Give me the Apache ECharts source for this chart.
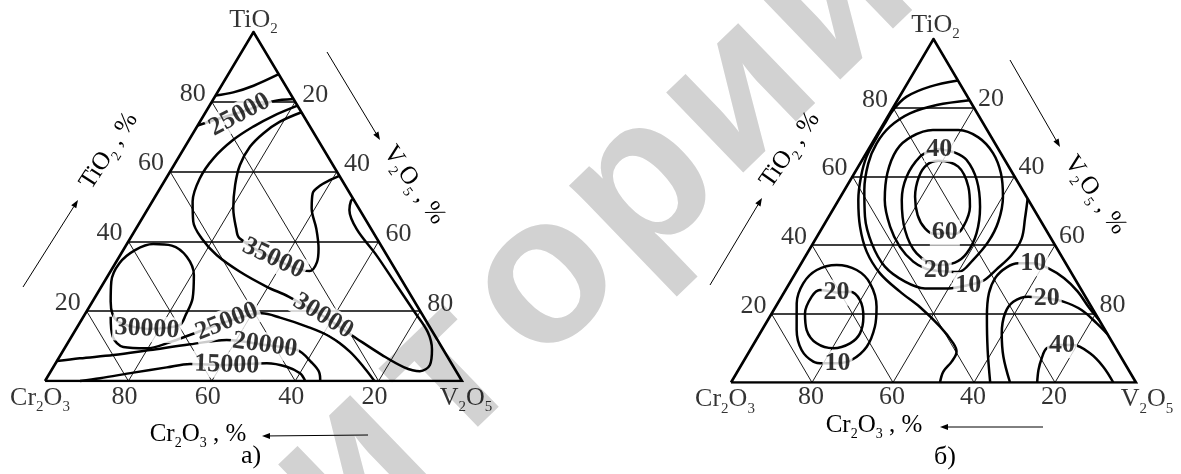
<!DOCTYPE html>
<html><head><meta charset="utf-8">
<script src="https://cdn.jsdelivr.net/npm/echarts@6/dist/echarts.min.js"></script>
<style>html,body{margin:0;padding:0;background:#fff}#c{width:1181px;height:474px}</style>
</head><body><div id="c"></div>
<script>
// ================= DATA =================
// points are compositions [TiO2 %, V2O5 %]  (Cr2O3 = 100 - TiO2 - V2O5)
const ticks = [20, 40, 60, 80];
const tickText = ['20', '40', '60', '80'];

// ---- chart а) ----
const aArc     = [[81.8,0],[82.7,3.8],[84.6,7.7],[87.9,12.1]];
const a25kTop  = [[73.2,0],[75.3,4.3],[77.0,8.3],[78.6,11.5],[80.2,14.7],[80.8,19.2]];
const a30kBig  = [[78.9,21.1],[76.0,16.8],[72.9,13.5],[69.1,10.6],[63.8,8.5],[58.1,8.1],[51.4,9.7],[45.7,12.7],[40.9,17.1],[36.1,23.1],[31.3,31.1],[27.0,39.7],[24.2,46.3],[18.6,57.4],[12.2,68.6],[7.5,77.0],[4.0,84.0],[2.8,88.5],[4.6,90.0],[9.0,88.3],[14.0,84.8],[20.0,78.5],[28.0,70.0],[36.0,61.5],[43.5,53.0],[49.0,48.5],[51.5,47.6],[52.2,47.8]];
const a35k     = [[77.0,23.0],[74.3,19.2],[71.0,16.9],[67.1,15.6],[61.9,15.8],[56.2,17.5],[49.5,20.4],[43.7,24.0],[40.9,26.2],[35.1,37.2],[31.5,47.7],[34.0,48.2],[38.0,46.6],[43.7,43.2],[49.5,39.2],[53.8,37.3],[56.0,38.0],[57.6,39.6],[58.8,41.2]];
const a30kLoop = [[14.9,17.0],[17.2,8.75],[22.7,4.4],[28.5,1.65],[33.7,0.95],[37.5,2.85],[39.25,6.35],[38.8,11.0],[35.6,16.2],[30.4,20.5],[23.7,23.55],[19.1,24.25],[16.0,24.2],[14.9,17.0]];
const a25kLow  = [[18.4,6.55],[12.7,9.9],[9.75,13.9],[9.36,19.7],[11.1,24.4],[13.4,28.5],[17.0,35.1],[19.4,42.3],[18.15,47.3],[15.6,55.0],[12.7,62.0],[8.4,68.9],[3.6,74.9],[0,79]];
const a20k     = [[5.7,0],[6.5,5.1],[7.45,12.7],[8.9,20.75],[10.5,29.55],[11.75,37.7],[10.3,47.6],[8.9,56],[5.3,61.3],[2.5,64.5],[0,66]];
const a15k     = [[0,8.4],[0.8,12.8],[2.4,20.0],[3.9,27.25],[4.9,32.35],[4.6,41.3],[5.1,50.65],[4.1,55.9],[2.2,60.05],[0,62.4]];
const aLabelText = ['25000','35000','30000','30000','25000','20000','15000'];
const aLabelPos  = [[76.3,8.5],[35.1,37.2],[18.6,57.4],[14.9,17.0],[17.0,35.1],[10.3,47.6],[4.6,41.3]];

// ---- chart б) ----
const bRing60 = [[43.6,31.0],[43.2,28.77],[44.88,25.46],[48.76,21.7],[54.1,18.4],[59.92,16.46],[63.32,16.65],[64.58,18.9],[62.83,24.7],[57.0,30.1],[51.2,33.4],[45.37,34.68],[43.2,33.7],[43.6,31.0]];
const bRing40 = [[68,17.4],[66.9,21.85],[64.77,25.8],[58.95,31.2],[51.19,35.9],[43.43,38.9],[37.6,39.4],[34.9,37.85],[34.2,34.1],[37.6,27.04],[44.4,20.76],[53.13,15.6],[59.92,13.4],[65.75,13.8],[67.5,15.75],[68,17.4]];
const bRing20 = [[32.56,34.5],[32.17,40.05],[35.66,41.9],[41.0,43.04],[46.8,42.6],[54.1,40.1],[60.9,36.2],[66.8,31.3],[71.37,25.4],[73.5,19.4],[73.5,13.1],[71.57,8.8],[67.7,7.05],[60.9,8.15],[53.13,11.4],[45.37,16.6],[39.5,21.95],[35.18,27.4],[33.24,31.3],[32.56,34.5]];
const bRing10 = [[82.2,17.8],[80.79,10.4],[78.36,5.0],[74.48,2.0],[69.63,1.15],[63.8,2.0],[56.04,4.9],[48.28,8.94],[40.5,14.5],[33.72,21.14],[29.35,28.3],[27.4,34.2],[27.4,39.96],[28.39,44.4],[29.65,47.47],[32.95,49.1],[37.1,50.75],[41.97,50.8],[47.8,48.7],[53.5,46.5]];
const bOuter  = [[87.9,12.1],[86.12,6.07],[83.21,1.77],[79.5,0.4],[75.45,0.3],[71.37,0.3],[65.75,0.6],[59.92,2.14],[53.13,4.87],[45.37,9.17],[38.1,14.45],[31.78,20.9],[26.45,28.5],[21.9,35.75],[16.25,43.5],[11.4,49.2],[8.98,51.2],[6.07,51.45],[3.16,50.85],[0,51.6]];
const b10Low  = [[0,64],[9.46,58.64],[19.17,53.6],[25.96,50.7],[30.6,50.05],[33.53,51.3],[34.7,53.6],[34.7,57.3],[33.34,61.5],[30.33,67.1],[26.45,72.4],[22.08,77.2],[18.2,81.8]];
const b20Low  = [[0,68.9],[7.52,63.5],[14.3,59.7],[20.1,57.6],[23.5,57.95],[24.99,60.9],[24.5,65.7],[23.53,70.3],[21.1,76.0],[17.23,81.7],[14.1,85.9]];
const b40Low  = [[0,75.6],[3.64,74.1],[7.0,73.2],[9.95,72.97],[10.92,75.8],[10.92,79.1],[8.5,84.4],[4.6,89.6],[0,94.4]];
const bLoop20 = [[26.15,13.0],[26.45,16.15],[24.0,19.85],[19.17,23.1],[14.3,24.7],[11.4,23.7],[9.95,20.3],[11.4,15.45],[15.28,11.04],[20.14,8.2],[25.0,7.42],[26.93,8.5],[26.15,13.0]];
const bLoop10 = [[5.58,23.5],[6.55,26.5],[10.43,28.3],[16.25,27.4],[22.08,24.9],[28.87,19.9],[32.75,14.65],[34.2,8.99],[32.75,4.8],[28.87,3.4],[23.05,4.7],[15.28,8.57],[9.46,12.7],[6.07,17.3],[5.58,20.0],[5.58,23.5]];
const bLabelText = ['60','40','20','10','10','20','40','20','10'];
const bLabelPos  = [[43.6,31.0],[68,17.4],[32.56,34.5],[28.39,44.4],[34.7,57.3],[24.5,65.7],[10.9,76.3],[26.15,13.0],[5.58,23.5]];

// ================= STYLE =================
const SERIF = '"Liberation Serif","Times New Roman",serif';
const aLabelRot = [28,-25,-31,-3,22,-8,-2];
const bLabelRot = [0,0,0,0,0,0,0,0,0];

function xy(p){ return [p[1] + p[0] / 2, p[0]]; }

function richSub(fs){
  return {
    a:{fontSize:fs, fontFamily:SERIF, color:'#000', lineHeight:Math.round(fs*1.3)},
    s:{fontSize:Math.round(fs*0.58), fontFamily:SERIF, color:'#000', lineHeight:Math.round(fs*0.58), verticalAlign:'bottom'}
  };
}

function triangleSeries(g){
  const hor = [], diag = [];
  ticks.forEach(k => {
    hor.push({coords:[xy([k,0]), xy([k,100-k])]});
    diag.push({coords:[xy([0,k]), xy([100-k,k])]});
    diag.push({coords:[xy([0,100-k]), xy([100-k,0])]});
  });
  const corners = [[0,0],[100,0],[0,100],[0,0]];
  return [
    {type:'lines', coordinateSystem:'cartesian2d', xAxisIndex:g, yAxisIndex:g, silent:true, z:1,
     data:hor, lineStyle:{color:'#000', width:1.5, opacity:1}},
    {type:'lines', coordinateSystem:'cartesian2d', xAxisIndex:g, yAxisIndex:g, silent:true, z:1,
     data:diag, lineStyle:{color:'#000', width:0.9, opacity:1}},
    {type:'line', xAxisIndex:g, yAxisIndex:g, data:corners.map(xy), symbol:'none', silent:true, z:5,
     lineStyle:{color:'#000', width:2.6, join:'miter'}},
    tickSeries(g, ticks.map(k => [k,0]), g===0?[-19,-8]:[-18,-8]),
    tickSeries(g, ticks.map(k => [100-k,k]), g===0?[20,-7]:[17,-9]),
    tickSeries(g, ticks.map(k => [0,100-k]), g===0?[-4,16]:[-1,15]),
    {type:'scatter', xAxisIndex:g, yAxisIndex:g, symbolSize:1, silent:true, z:6, clip:false,
     itemStyle:{color:'rgba(0,0,0,0)'},
     label:{show:true, position:'inside', rich:richSub(26), textBorderWidth:0},
     data:[
       {value:xy([100,0]), label:{formatter:'{a|TiO}{s|2}', offset:g===0?[0,-12]:[2,-14]}},
       {value:xy([0,0]), label:{formatter:'{a|Cr}{s|2}{a|O}{s|3}', offset:g===0?[-5,17]:[-6,17]}},
       {value:xy([0,100]), label:{formatter:'{a|V}{s|2}{a|O}{s|5}', offset:g===0?[4,17]:[11,17]}}
     ]}
  ];
}
function tickSeries(g, pts, off){
  return {type:'scatter', xAxisIndex:g, yAxisIndex:g, symbolSize:1, silent:true, z:6, clip:false,
    itemStyle:{color:'rgba(0,0,0,0)'},
    label:{show:true, position:'inside', offset:off, fontFamily:SERIF, fontSize:26, color:'#000', textBorderWidth:0,
      formatter:p => tickText[p.dataIndex]},
    data:pts.map(xy)};
}
function contour(g, pts){
  return {type:'line', xAxisIndex:g, yAxisIndex:g, data:pts.map(xy), smooth:0.35, symbol:'none',
    silent:true, clip:false, z:3, lineStyle:{color:'#000', width:2.5}};
}
function labelSeries(g, texts, pos, rot, fs){
  return {type:'scatter', xAxisIndex:g, yAxisIndex:g, symbolSize:1, silent:true, z:7, clip:false,
    itemStyle:{color:'rgba(0,0,0,0)'},
    label:{show:true, position:'inside', fontFamily:SERIF, fontWeight:'bold', fontSize:fs, color:'#000',
      textBorderWidth:0, backgroundColor:'#fff', padding:[0,2]},
    data:texts.map((t,i) => ({value:xy(pos[i]), label:{formatter:t, rotate:rot[i]}}))};
}

const series = [].concat(
  triangleSeries(0), triangleSeries(1),
  [aArc,a25kTop,a30kBig,a35k,a30kLoop,a25kLow,a20k,a15k].map(c => contour(0,c)),
  [bRing60,bRing40,bRing20,bRing10,bOuter,b10Low,b20Low,b40Low,bLoop20,bLoop10].map(c => contour(1,c)),
  [labelSeries(0, aLabelText, aLabelPos, aLabelRot, 26), labelSeries(1, bLabelText, bLabelPos, bLabelRot, 26)]
);

// ---- annotations (titles, arrows, watermark) ----
function arrow(x1,y1,x2,y2){
  const a = Math.atan2(y2-y1, x2-x1), L = 8, W = 3;
  const bx = x2 - L*Math.cos(a), by = y2 - L*Math.sin(a);
  return [
    {type:'line', shape:{x1:x1,y1:y1,x2:bx,y2:by}, style:{stroke:'#000', lineWidth:1}, z:10},
    {type:'polygon', shape:{points:[[x2,y2],[bx+W*Math.sin(a), by-W*Math.cos(a)],[bx-W*Math.sin(a), by+W*Math.cos(a)]]}, style:{fill:'#000'}, z:10}
  ];
}
function title(x,y,rotDeg,text,fs){
  return {type:'text', x:x, y:y, rotation:rotDeg*Math.PI/180, z:10,
    style:{text:text, rich:richSub(fs), align:'center', verticalAlign:'middle', fill:'#000', fontFamily:SERIF, fontSize:fs}};
}
const wmText = 'репозиторий';
const wm = [];
for (let i = 0; i < wmText.length; i++){
  const d = i - 7;
  wm.push({type:'text', x:545 + d*97, y:282 - d*93, rotation:44*Math.PI/180, z:-1,
    style:{text:wmText[i], fill:'#d2d2d2', fontFamily:'"Liberation Sans",Arial,sans-serif', fontWeight:'bold', fontSize:210,
      align:'center', verticalAlign:'middle'}});
}
const graphics = [].concat(
  wm,
  [title(109,151,57,'{a|TiO}{s|2}{a| , %}',25),
   title(414,185,-55,'{a|V}{s|2}{a|O}{s|5}{a| , %}',25),
   title(198,434,0,'{a|Cr}{s|2}{a|O}{s|3}{a| , %}',25),
   title(251,456,0,'{a|а)}',26),
   title(790,150,55,'{a|TiO}{s|2}{a| , %}',25),
   title(1095,195,-55,'{a|V}{s|2}{a|O}{s|5}{a| , %}',25),
   title(874,425,0,'{a|Cr}{s|2}{a|O}{s|3}{a| , %}',25),
   title(945,457,0,'{a|б)}',26)],
  arrow(23,287,78,200), arrow(327,52,380,140), arrow(368,435,262,436),
  arrow(710,285,762,198), arrow(1010,60,1060,147), arrow(1043,427,940,427)
);

const chart = echarts.init(document.getElementById('c'), null, {renderer:'canvas'});
chart.setOption({
  animation:false,
  backgroundColor:'#fff',
  grid:[{left:45, top:32, width:417, height:349}, {left:731, top:39, width:405, height:343.5}],
  xAxis:[{gridIndex:0, type:'value', min:0, max:100, show:false}, {gridIndex:1, type:'value', min:0, max:100, show:false}],
  yAxis:[{gridIndex:0, type:'value', min:0, max:100, show:false}, {gridIndex:1, type:'value', min:0, max:100, show:false}],
  series:series,
  graphic:graphics
});
</script></body></html>
